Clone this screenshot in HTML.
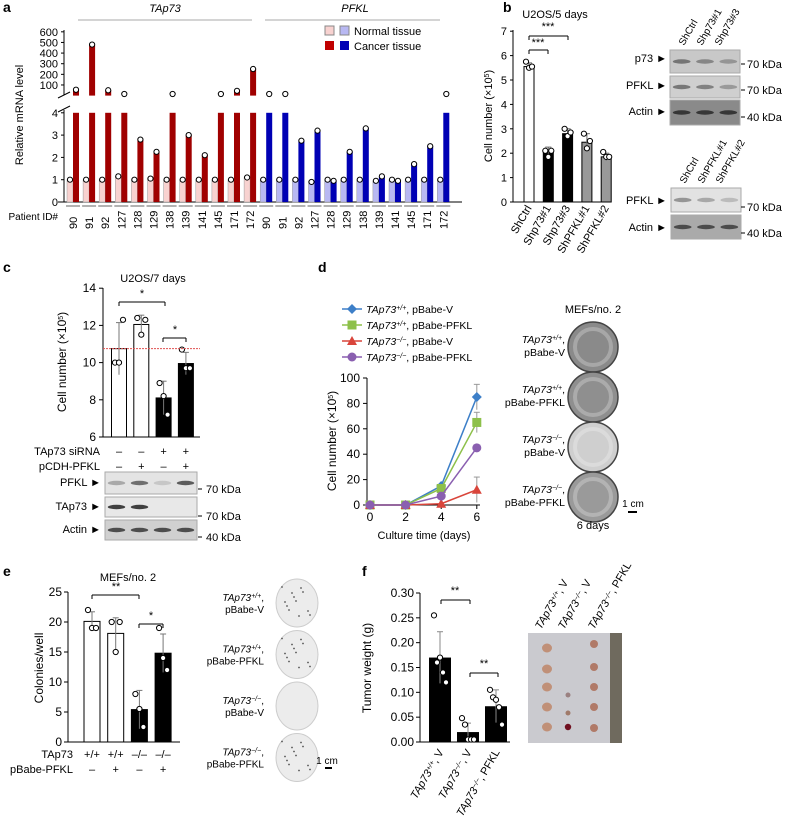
<!DOCTYPE html>
<html><head><meta charset="utf-8"><style>
html,body{margin:0;padding:0;background:#fff;}
svg{display:block;font-family:"Liberation Sans",sans-serif;}
</style></head><body>
<svg id="fig" width="788" height="820" viewBox="0 0 788 820"></svg>
<script>
// ---- Panel a data ----
const aPatients=['90','91','92','127','128','129','138','139','141','145','171','172'];
const aTap73Normal=[1,1,1,1.15,1,1.05,1,1,1,1,1,1.1];
const aTap73Cancer=[55,480,50,15,2.8,2.25,15,3.0,2.1,15,45,250];
const aPfklNormal=[1,1,1,0.9,1,1,1,0.95,1,1,1,1];
const aPfklCancer=[15,15,2.75,3.2,0.95,2.25,3.3,1.15,0.95,1.7,2.5,15];
const aLowTicks=[0,1,2,3,4];
const aHighTicks=[100,200,300,400,500,600];
// ---- Panel b data ----
const bCats=['ShCtrl','Shp73#1','Shp73#3','ShPFKL#1','ShPFKL#2'];
const bVals=[5.55,2.1,2.8,2.45,1.85];
const bErr=[0.15,0.15,0.2,0.35,0.15];
const bPts=[[5.75,5.5,5.55],[2.1,1.85,2.1],[3.0,2.7,2.85],[2.8,2.2,2.5],[2.05,1.85,1.85]];
const bTicks=[0,1,2,3,4,5,6,7];
// ---- Panel c data ----
const cVals=[10.75,12.05,8.1,9.95];
const cErr=[1.4,0.5,0.9,0.6];
const cPts=[[10.0,10.0,12.3],[12.4,11.5,12.3],[8.9,8.2,7.2],[10.7,9.7,9.7]];
const cTicks=[6,8,10,12,14];
const cSiRNA=['–','–','+','+'];
const cPcdh=['–','+','–','+'];
// ---- Panel d data ----
const dDays=[0,2,4,6];
const dBlue=[0,0,15,85];
const dGreen=[0,0,13,65];
const dRed=[0,0,1,12];
const dPurple=[0,0,7,45];
const dErr6=[10,8,10,2];
const dTicksY=[0,20,40,60,80,100];
// ---- Panel e data ----
const eVals=[20.1,18.1,5.4,14.8];
const eErr=[1.6,2.6,3.2,3.2];
const ePts=[[22,19,19],[20,15,20],[8,5.5,2.5],[19,14,12]];
const eTicks=[0,5,10,15,20,25];
const eTap=['+/+','+/+','–/–','–/–'];
const ePfkl=['–','+','–','+'];
// ---- Panel f data ----
const fVals=[0.17,0.02,0.072];
const fErr=[0.052,0.018,0.033];
const fPts=[[0.255,0.16,0.17,0.14,0.12],[0.048,0.035,0.005,0.005,0.005],[0.105,0.09,0.085,0.07,0.035]];
const fTicks=[0,0.05,0.10,0.15,0.20,0.25,0.30];

const NS='http://www.w3.org/2000/svg';
const svg=document.getElementById('fig');
function mk(tag,attrs,name,parent){
  const e=document.createElementNS(NS,tag);
  for(const k in attrs)e.setAttribute(k,attrs[k]);
  
  
  (parent||svg).appendChild(e);return e;
}
function T(x,y,s,name,o){const t=mk('text',Object.assign({x:x,y:y,'font-size':11,'text-anchor':'middle',fill:'#000'},o||{}),name);t.innerHTML=s;return t;}
function L(x1,y1,x2,y2,name,o){return mk('line',Object.assign({x1:x1,y1:y1,x2:x2,y2:y2,stroke:'#000','stroke-width':1},o||{}),name);}
function R(x,y,w,h,name,o){return mk('rect',Object.assign({x:x,y:y,width:w,height:h},o||{}),name);}
function dot(x,y,name,fill){return mk('circle',{cx:x,cy:y,r:2.6,fill:fill||'#fff',stroke:'#000','stroke-width':1},name);}
const sup=s=>'<tspan baseline-shift="super" font-size="7">'+s+'</tspan>';
function tap(s){return '<tspan font-style="italic">TAp73'+sup(s)+'</tspan>';}

// panel letters
[['a',3,12],['b',503,12],['c',3,272],['d',318,272],['e',3,576],['f',362,576]].forEach(p=>T(p[1],p[2],p[0],'panel-label-'+p[0],{'font-size':14,'font-weight':'bold','text-anchor':'start'}));

// ===== Panel a =====
const yLow=v=>202-v*22.3;
const yHigh=v=>95.6-v*0.1063;
const ax=i=>73+i*16.1;
T(165,12,'TAp73','tap73-header',{'font-style':'italic'});
T(355,12,'PFKL','pfkl-header',{'font-style':'italic'});
L(78,20,252,20,'tap73-header-line',{stroke:'#aaa'});
L(265,20,440,20,'pfkl-header-line',{stroke:'#aaa'});
L(64,30,64,95,'a-y-axis-upper');L(64,110,64,202,'a-y-axis-lower');
L(58,202,462,202,'a-x-axis');
L(58,98,70,92,'a-break-mark-1');L(58,112,70,106,'a-break-mark-2');
aLowTicks.forEach(v=>{L(61,yLow(v),64,yLow(v),'a-tick');T(58,yLow(v)+4,v,'a-tick-label',{'text-anchor':'end'});});
aHighTicks.forEach(v=>{L(61,yHigh(v),64,yHigh(v),'a-tick');T(58,yHigh(v)+4,v,'a-tick-label',{'text-anchor':'end'});});
T(0,0,'Relative mRNA level','a-y-axis-title',{transform:'translate(23,115) rotate(-90)'});
function aGroup(i,nv,cv,ncol,ccol,pid){
  const cx=ax(i);
  R(cx-6,yLow(nv),6,202-yLow(nv),'bar-normal-'+pid,{fill:ncol,stroke:'#999','stroke-width':0.5});
  if(cv<=4){R(cx,yLow(cv),6,202-yLow(cv),'bar-cancer-'+pid,{fill:ccol});dot(cx+3,yLow(cv),'point');}
  else{R(cx,112.8,6,89.2,'bar-cancer-'+pid,{fill:ccol});
    if(yHigh(cv)<94)R(cx,yHigh(cv),6,95.6-yHigh(cv),'bar-cancer-upper-'+pid,{fill:ccol});
    dot(cx+3,Math.min(yHigh(cv),94),'point');}
  dot(cx-3,yLow(nv),'point');
  L(cx-7,206,cx+7,206,'group-underline',{stroke:'#666'});
  T(0,0,pid,'patient-id-label',{transform:'translate('+(cx+4)+',229) rotate(-90)','text-anchor':'start'});
}
aPatients.forEach((p,i)=>aGroup(i,aTap73Normal[i],aTap73Cancer[i],'#f8d2d0','#a00000',p));
aPatients.forEach((p,i)=>aGroup(i+12,aPfklNormal[i],aPfklCancer[i],'#b8b8f2','#0000b4',p));
T(58,220,'Patient ID#','patient-id-title',{'text-anchor':'end','font-size':10});
R(325,26,9,9,'legend-normal-red',{fill:'#f8d2d0',stroke:'#888'});R(340,26,9,9,'legend-normal-blue',{fill:'#b8b8f2',stroke:'#888'});
T(354,35,'Normal tissue','legend-normal-label',{'text-anchor':'start'});
R(325,41,9,9,'legend-cancer-red',{fill:'#c00000'});R(340,41,9,9,'legend-cancer-blue',{fill:'#0000b4'});
T(354,50,'Cancer tissue','legend-cancer-label',{'text-anchor':'start'});

// ===== Panel b =====
const yB=v=>202-v*24.4;
const bx=i=>529+i*19.3;
L(513,30,513,202,'b-y-axis');L(513,202,610,202,'b-x-axis');
bTicks.forEach(v=>{L(510,yB(v),513,yB(v),'b-tick');T(507,yB(v)+4,v,'b-tick-label',{'text-anchor':'end'});});
T(0,0,'Cell number (×10'+sup(5)+')','b-y-axis-title',{transform:'translate(492,116) rotate(-90)'});
T(555,18,'U2OS/5 days','b-title');
const bCol=['#fff','#000','#000','#999','#999'];
bCats.forEach((c,i)=>{const cx=bx(i);
  R(cx-5,yB(bVals[i]),10,202-yB(bVals[i]),'bar-'+c,{fill:bCol[i],stroke:'#000'});
  L(cx,yB(bVals[i]+bErr[i]),cx,yB(bVals[i]-bErr[i]),'error-bar',{stroke:'#666'});
  L(cx-3,yB(bVals[i]+bErr[i]),cx+3,yB(bVals[i]+bErr[i]),'error-cap',{stroke:'#666'});
  bPts[i].forEach((p,j)=>dot(cx-3+j*3,yB(p),'point'));
  T(0,0,c,'b-x-label',{transform:'translate('+(cx+3)+',208) rotate(-60)','text-anchor':'end'});
});
L(529,36,568,36,'sig-bracket');L(529,36,529,40,'sig-bracket');L(568,36,568,40,'sig-bracket');
T(548,30,'***','sig-label');
L(529,50,548,50,'sig-bracket');L(529,50,529,54,'sig-bracket');L(548,50,548,54,'sig-bracket');
T(538,46,'***','sig-label');
function blot(x,y,w,h,bg,bands,name){
  R(x,y,w,h,name+'-bg',{fill:bg,stroke:'#aaa'});
  bands.forEach((a,i)=>{if(a>0)mk('ellipse',{cx:x+w*(i+0.5)/bands.length,cy:y+h/2,rx:w/bands.length*0.38,ry:2.2,fill:'#222',opacity:a},name+'-band');});}
blot(670,50,70,23,'#c8c8c8',[0.5,0.4,0.3],'blot-b-p73');
blot(670,76,70,22,'#cfcfcf',[0.5,0.45,0.3],'blot-b-pfkl');
blot(670,100,70,25,'#8a8a8a',[0.8,0.8,0.8],'blot-b-actin');
blot(671,188,70,24,'#e2e2e2',[0.4,0.3,0.2],'blot-b2-pfkl');
blot(671,215,70,24,'#aaa',[0.7,0.7,0.7],'blot-b2-actin');
[['p73',62],['PFKL',89],['Actin',115],['PFKL',204],['Actin',231]].forEach(b=>T(667,b[1],b[0]+' ►','blot-label',{'text-anchor':'end'}));
[['70 kDa',68],['70 kDa',94],['40 kDa',121],['70 kDa',211],['40 kDa',237]].forEach(b=>{L(741,b[1]-4,745,b[1]-4,'kda-tick');T(747,b[1],b[0],'kda-label',{'text-anchor':'start'});});
['ShCtrl','Shp73#1','Shp73#3'].forEach((s,i)=>T(0,0,s,'blot-col-label',{transform:'translate('+(684+i*18)+',46) rotate(-60)','text-anchor':'start','font-size':10}));
['ShCtrl','ShPFKL#1','ShPFKL#2'].forEach((s,i)=>T(0,0,s,'blot-col-label',{transform:'translate('+(685+i*18)+',184) rotate(-60)','text-anchor':'start','font-size':10}));

// ===== Panel c =====
const yC=v=>437-(v-6)*18.6;
const cxp=i=>119+i*22.3;
L(103,288,103,437,'c-y-axis');L(103,437,200,437,'c-x-axis');
cTicks.forEach(v=>{L(99,yC(v),103,yC(v),'c-tick');T(96,yC(v)+4,v,'c-tick-label',{'text-anchor':'end','font-size':12});});
T(0,0,'Cell number (×10'+sup(5)+')','c-y-axis-title',{transform:'translate(66,362) rotate(-90)','font-size':12});
T(153,282,'U2OS/7 days','c-title');
cVals.forEach((v,i)=>{const cx=cxp(i);
  R(cx-7.5,yC(v),15,437-yC(v),'bar-c-'+i,{fill:i<2?'#fff':'#000',stroke:'#000'});
  L(cx,yC(v+cErr[i]),cx,yC(v-cErr[i]),'error-bar',{stroke:'#777'});
  L(cx-3,yC(v+cErr[i]),cx+3,yC(v+cErr[i]),'error-cap',{stroke:'#777'});
  cPts[i].forEach((p,j)=>dot(cx-4+j*4,yC(p),'point'));
  T(cx,455,cSiRNA[i],'c-sirna-sign');T(cx,470,cPcdh[i],'c-pcdh-sign');
});
L(103,yC(10.75),200,yC(10.75),'c-reference-line',{stroke:'#e05050','stroke-dasharray':'2,1'});
L(119,302,165,302,'sig-bracket');L(119,302,119,306,'sig-bracket');L(165,302,165,306,'sig-bracket');T(142,297,'*','sig-label');
L(163,338,186,338,'sig-bracket');L(163,338,163,342,'sig-bracket');L(186,338,186,342,'sig-bracket');T(175,333,'*','sig-label');
T(100,455,'TAp73 siRNA','c-sirna-label',{'text-anchor':'end'});
T(100,470,'pCDH-PFKL','c-pcdh-label',{'text-anchor':'end'});
blot(105,472,92,22,'#e4e4e4',[0.3,0.6,0.15,0.7],'blot-c-pfkl');
blot(105,497,92,20,'#e8e8e8',[0.85,0.85,0,0],'blot-c-tap73');
blot(105,520,92,20,'#d0d0d0',[0.75,0.75,0.75,0.75],'blot-c-actin');
[['PFKL',486],['TAp73',510],['Actin',533]].forEach(b=>T(101,b[1],b[0]+' ►','blot-label',{'text-anchor':'end'}));
[['70 kDa',493],['70 kDa',520],['40 kDa',541]].forEach(b=>{L(198,b[1]-4,202,b[1]-4,'kda-tick');T(206,b[1],b[0],'kda-label',{'text-anchor':'start'});});

// ===== Panel d =====
const xD=d=>370+d*17.8;
const yD=v=>505-v*1.27;
L(367,378,367,505,'d-y-axis');L(367,505,480,505,'d-x-axis');
dTicksY.forEach(v=>{L(363,yD(v),367,yD(v),'d-tick');T(360,yD(v)+4,v,'d-tick-label',{'text-anchor':'end','font-size':12});});
dDays.forEach(d=>{L(xD(d),505,xD(d),509,'d-tick');T(xD(d),521,d,'d-x-tick-label',{'font-size':12});});
T(0,0,'Cell number (×10'+sup(5)+')','d-y-axis-title',{transform:'translate(336,441) rotate(-90)','font-size':12});
T(424,539,'Culture time (days)','d-x-axis-title');
const dSeries=[[dBlue,'#3d7fc8','diamond','pBabe-V','+/+'],[dGreen,'#8dc04a','square','pBabe-PFKL','+/+'],[dRed,'#d9453b','triangle','pBabe-V','−/−'],[dPurple,'#8a5fb0','circle','pBabe-PFKL','−/−']];
function marker(x,y,shape,col,name){
  if(shape==='diamond')mk('path',{d:`M${x} ${y-5}L${x+5} ${y}L${x} ${y+5}L${x-5} ${y}Z`,fill:col},name);
  else if(shape==='square')R(x-4.5,y-4.5,9,9,name,{fill:col});
  else if(shape==='triangle')mk('path',{d:`M${x} ${y-5}L${x+5} ${y+4}L${x-5} ${y+4}Z`,fill:col},name);
  else mk('circle',{cx:x,cy:y,r:4.5,fill:col},name);
}
dSeries.forEach((s,k)=>{
  const vals=s[0],col=s[1];
  const e6=dErr6[k];
  L(xD(6),yD(vals[3]+e6),xD(6),yD(Math.max(0,vals[3]-e6)),'d-error-bar',{stroke:'#999'});
  L(xD(6)-3,yD(vals[3]+e6),xD(6)+3,yD(vals[3]+e6),'d-error-cap',{stroke:'#999'});
  mk('polyline',{points:vals.map((v,i)=>xD(dDays[i])+','+yD(v)).join(' '),fill:'none',stroke:col,'stroke-width':1.5},'d-line-'+k);
  vals.forEach((v,i)=>marker(xD(dDays[i]),yD(v),s[2],col,'d-marker'));
  const ly=309+k*16;
  L(342,ly,362,ly,'legend-line',{stroke:col,'stroke-width':1.5});marker(352,ly,s[2],col,'legend-marker');
  T(366,ly+4,tap(s[4])+', '+s[3],'legend-label',{'text-anchor':'start','font-size':10.5});
});
T(593,313,'MEFs/no. 2','d-dish-title');
const dLab=[['+/+','pBabe-V'],['+/+','pBabe-PFKL'],['−/−','pBabe-V'],['−/−','pBabe-PFKL']];
const dDishCol=['#8a8a8a','#8f8f8f','#cfcfcf','#9a9a9a'];
dLab.forEach((l,i)=>{const cy=347+i*50;
  mk('circle',{cx:593,cy:cy,r:25,fill:dDishCol[i],stroke:'#444','stroke-width':1.5},'colony-dish');
  mk('circle',{cx:593,cy:cy,r:18,fill:'none',stroke:'#fff','stroke-opacity':0.25,'stroke-width':4},'dish-texture');
  T(565,cy-4,tap(l[0])+',','dish-label',{'text-anchor':'end','font-size':10.5});
  T(565,cy+9,l[1],'dish-label',{'text-anchor':'end','font-size':10.5});
});
T(593,529,'6 days','d-days-label');
L(628,512,637,512,'scale-bar',{'stroke-width':2});T(633,507,'1 cm','scale-label',{'font-size':10});

// ===== Panel e =====
const yE=v=>742-v*6;
const ex=i=>92+i*23.7;
L(68,592,68,742,'e-y-axis');L(68,742,180,742,'e-x-axis');
eTicks.forEach(v=>{L(64,yE(v),68,yE(v),'e-tick');T(62,yE(v)+4,v,'e-tick-label',{'text-anchor':'end','font-size':12});});
T(0,0,'Colonies/well','e-y-axis-title',{transform:'translate(43,668) rotate(-90)','font-size':12});
T(128,581,'MEFs/no. 2','e-title',{'font-size':11});
eVals.forEach((v,i)=>{const cx=ex(i);
  R(cx-8,yE(v),16,742-yE(v),'bar-e-'+i,{fill:i<2?'#fff':'#000',stroke:'#000'});
  L(cx,yE(v+eErr[i]),cx,yE(v-eErr[i]),'error-bar',{stroke:'#777'});
  L(cx-3,yE(v+eErr[i]),cx+3,yE(v+eErr[i]),'error-cap',{stroke:'#777'});
  ePts[i].forEach((p,j)=>dot(cx-4+j*4,yE(p),'point'));
  T(cx,758,eTap[i],'e-tap73-genotype',{'font-size':11});T(cx,773,ePfkl[i],'e-pfkl-sign');
});
L(92,595,139,595,'sig-bracket');L(92,595,92,599,'sig-bracket');L(139,595,139,599,'sig-bracket');T(116,590,'**','sig-label');
L(139,624,163,624,'sig-bracket');L(139,624,139,628,'sig-bracket');L(163,624,163,628,'sig-bracket');T(151,619,'*','sig-label');
T(73,758,'TAp73','e-tap73-label',{'text-anchor':'end'});T(73,773,'pBabe-PFKL','e-pfkl-label',{'text-anchor':'end'});
dLab.forEach((l,i)=>{const cy=603+i*51.5;
  mk('ellipse',{cx:297,cy:cy,rx:21,ry:24,fill:'#ececec',stroke:'#ccc'},'colony-dish-e');
  if(i!==2)for(let k=0;k<12;k++)mk('circle',{cx:297+((k*37)%30)-15,cy:cy+((k*23)%32)-16,r:0.9,fill:'#555'},'colony');
  T(264,cy-2,tap(l[0])+',','dish-label',{'text-anchor':'end','font-size':10});
  T(264,cy+10,l[1],'dish-label',{'text-anchor':'end','font-size':10});
});
L(325,768,332,768,'scale-bar',{'stroke-width':2});T(327,764,'1 cm','scale-label',{'font-size':10});

// ===== Panel f =====
const yF=v=>742-v*496.7;
const fx=i=>440+i*28;
L(420,593,420,742,'f-y-axis');L(420,742,510,742,'f-x-axis');
fTicks.forEach(v=>{L(416,yF(v),420,yF(v),'f-tick');T(414,yF(v)+4,v.toFixed(2),'f-tick-label',{'text-anchor':'end','font-size':12});});
T(0,0,'Tumor weight (g)','f-y-axis-title',{transform:'translate(371,668) rotate(-90)','font-size':12});
const fLab=[['+/+','V'],['−/−','V'],['−/−','PFKL']];
const fPhotoX=[541,564,594];
fVals.forEach((v,i)=>{const cx=fx(i);
  R(cx-11,yF(v),22,742-yF(v),'bar-f-'+i,{fill:'#000'});
  L(cx,yF(v+fErr[i]),cx,yF(Math.max(0,v-fErr[i])),'error-bar',{stroke:'#888'});
  L(cx-3,yF(v+fErr[i]),cx+3,yF(v+fErr[i]),'error-cap',{stroke:'#888'});
  fPts[i].forEach((p,j)=>dot(cx-6+j*3,yF(p),'point'));
  T(0,0,tap(fLab[i][0])+', '+fLab[i][1],'f-x-label',{transform:'translate('+(cx+4)+',752) rotate(-60)','text-anchor':'end'});
  T(0,0,tap(fLab[i][0])+', '+fLab[i][1],'photo-label',{transform:'translate('+fPhotoX[i]+',630) rotate(-60)','text-anchor':'start'});
});
L(441,600,470,600,'sig-bracket');L(441,600,441,604,'sig-bracket');L(470,600,470,604,'sig-bracket');T(455,594,'**','sig-label');
L(470,673,498,673,'sig-bracket');L(470,673,470,677,'sig-bracket');L(498,673,498,677,'sig-bracket');T(484,667,'**','sig-label');
R(528,633,94,110,'tumor-photo',{fill:'#cacacf'});
R(610,633,12,110,'ruler',{fill:'#6f6a5e'});
[648,669,687,707,727].forEach(y=>mk('ellipse',{cx:547,cy:y,rx:5,ry:4.5,fill:'#c09078'},'tumor'));
[644,667,687,707,728].forEach(y=>mk('ellipse',{cx:594,cy:y,rx:4,ry:4,fill:'#b07a68'},'tumor'));
mk('ellipse',{cx:568,cy:695,rx:2.5,ry:2.5,fill:'#9a8080'},'tumor');
mk('ellipse',{cx:568,cy:713,rx:2.5,ry:2.5,fill:'#a07a6a'},'tumor');
mk('ellipse',{cx:568,cy:727,rx:3.2,ry:3.2,fill:'#701020'},'tumor');
</script>
</body></html>
